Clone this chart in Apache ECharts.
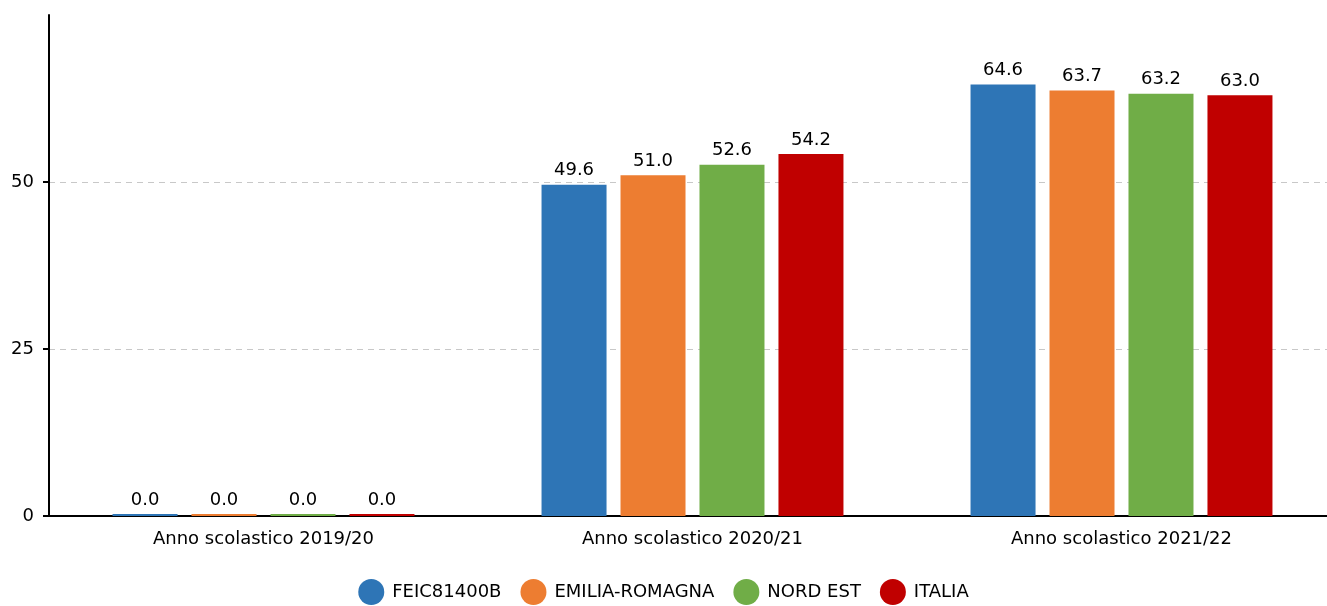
<!DOCTYPE html>
<html><head><meta charset="utf-8">
<script src="https://cdn.jsdelivr.net/npm/echarts@6/dist/echarts.min.js"></script>
<style>html,body{margin:0;padding:0;background:#fff}#c{width:1327px;height:606px}</style>
</head><body><div id="c"></div>
<script>
const categories = ['Anno scolastico 2019/20', 'Anno scolastico 2020/21', 'Anno scolastico 2021/22'];
const seriesNames = ['FEIC81400B', 'EMILIA-ROMAGNA', 'NORD EST', 'ITALIA'];
const feic = [0.0, 49.6, 64.6];
const emilia = [0.0, 51.0, 63.7];
const nordEst = [0.0, 52.6, 63.2];
const italia = [0.0, 54.2, 63.0];
const colors = ['#2e75b6', '#ed7d31', '#70ad47', '#c00000'];
const values = [feic, emilia, nordEst, italia];

const font = 'DejaVu Sans';
const chart = echarts.init(document.getElementById('c'));
chart.setOption({
  animation: false,
  textStyle: { fontFamily: font },
  grid: { left: 49, right: -9, top: 15, bottom: 90, containLabel: false, outerBoundsMode: 'none' },
  legend: {
    top: 574, left: 'center',
    icon: 'circle', itemWidth: 26, itemHeight: 26, itemGap: 19,
    textStyle: { fontFamily: font, fontSize: 18, color: '#000', padding: [0, 0, 0, 3] },
    data: seriesNames
  },
  xAxis: {
    type: 'category', data: categories,
    axisLine: { show: true, lineStyle: { color: '#000', width: 2 } },
    axisTick: { show: false },
    axisLabel: { fontFamily: font, fontSize: 18, color: '#000', margin: 14 }
  },
  yAxis: {
    type: 'value', min: 0, max: 75, interval: 25,
    axisLine: { show: true, lineStyle: { color: '#000', width: 2 } },
    axisTick: { show: true, length: 6, lineStyle: { color: '#000', width: 2 } },
    axisLabel: { fontFamily: font, fontSize: 18, color: '#000', margin: 15, showMaxLabel: false },
    splitLine: { show: true, lineStyle: { type: [6, 5], color: ['#c8c8c8', '#c8c8c8', '#c8c8c8', 'rgba(0,0,0,0)'], width: 1 } }
  },
  series: seriesNames.map((n, i) => ({
    name: n, type: 'bar', data: values[i],
    barWidth: 65, barGap: '21.5%', barMinHeight: 2,
    itemStyle: { color: colors[i] },
    label: { show: true, position: 'top', distance: 5, fontFamily: font, fontSize: 18, color: '#000',
      formatter: p => p.value.toFixed(1) }
  }))
});
</script></body></html>
